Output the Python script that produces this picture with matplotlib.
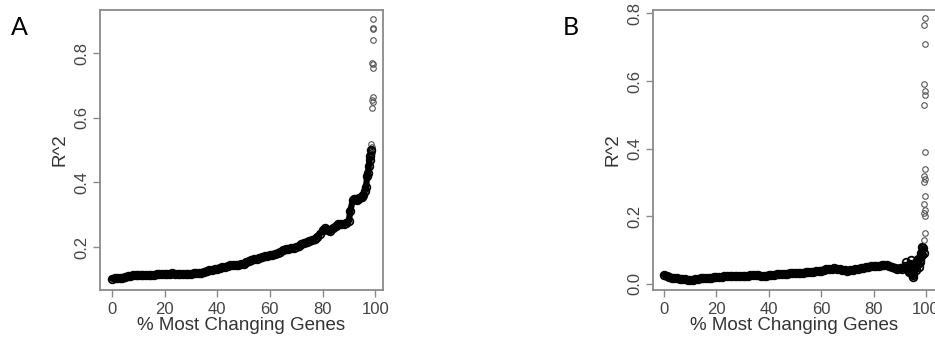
import numpy as np
import matplotlib
matplotlib.use('Agg')
from matplotlib import pyplot as plt

plt.rcParams['font.family'] = ['Liberation Sans', 'DejaVu Sans']

# - panel A data ---------------------------------------------------------------
a_x = list(range(0, 91)) + [90.5, 91.5, 92, 92.5, 93, 93.5, 94, 94.5, 95,
                            95.5, 96, 96.5, 97, 97.3, 97.6, 97.9, 98.2, 98.5]
a_y = [0.102, 0.103, 0.103, 0.104, 0.105, 0.107, 0.109, 0.111, 0.112, 0.112,
       0.112, 0.112, 0.112, 0.112, 0.113, 0.113, 0.114, 0.115, 0.116, 0.117,
       0.117, 0.118, 0.118, 0.119, 0.118, 0.118, 0.118, 0.118, 0.118, 0.118,
       0.118, 0.119, 0.119, 0.120, 0.121, 0.122, 0.127, 0.129, 0.130, 0.131,
       0.133, 0.136, 0.138, 0.139, 0.141, 0.143, 0.144, 0.145, 0.145, 0.146,
       0.148, 0.153, 0.157, 0.160, 0.162, 0.164, 0.167, 0.169, 0.171, 0.172,
       0.174, 0.176, 0.178, 0.181, 0.185, 0.190, 0.193, 0.195, 0.197, 0.198,
       0.200, 0.204, 0.208, 0.212, 0.216, 0.220, 0.222, 0.225, 0.232, 0.240,
       0.252, 0.258, 0.254, 0.248, 0.258, 0.266, 0.270, 0.271, 0.272, 0.275,
       0.280,
       0.310, 0.345, 0.348, 0.350, 0.345, 0.350, 0.352, 0.355, 0.355,
       0.360, 0.372, 0.385, 0.420, 0.430, 0.450, 0.470, 0.480, 0.500]
a_out_x = [98.6, 98.7, 98.8, 98.9, 99.0, 99.0, 98.9, 99.0, 98.9, 99.0, 99.2, 99.1, 99.2, 99.3]
a_out_y = [0.52, 0.51, 0.49, 0.63, 0.65, 0.665, 0.655, 0.755, 0.77, 0.765, 0.84, 0.875, 0.878, 0.905]

# - panel B data ---------------------------------------------------------------
b_x = list(range(0, 95)) + [94.5, 95, 95.5, 96, 96.5, 97, 97.5, 98, 98.5, 99]
b_y = [0.027, 0.024, 0.020, 0.019, 0.018, 0.017, 0.016, 0.015, 0.014, 0.013,
       0.012, 0.013, 0.014, 0.016, 0.018, 0.019, 0.019, 0.018, 0.019, 0.020,
       0.020, 0.021, 0.021, 0.022, 0.023, 0.024, 0.024, 0.023, 0.022, 0.022,
       0.022, 0.023, 0.024, 0.025, 0.026, 0.026, 0.025, 0.023, 0.022, 0.024,
       0.026, 0.027, 0.027, 0.028, 0.029, 0.029, 0.029, 0.030, 0.031, 0.031,
       0.032, 0.032, 0.033, 0.033, 0.034, 0.034, 0.035, 0.036, 0.037, 0.038,
       0.039, 0.041, 0.043, 0.044, 0.045, 0.046, 0.045, 0.044, 0.042, 0.040,
       0.039, 0.040, 0.042, 0.044, 0.045, 0.046, 0.047, 0.049, 0.051, 0.052,
       0.053, 0.052, 0.054, 0.055, 0.057, 0.056, 0.052, 0.049, 0.046, 0.045,
       0.046, 0.044, 0.052, 0.040, 0.060,
       0.030, 0.025, 0.045, 0.065, 0.055, 0.075, 0.065, 0.090, 0.085, 0.105]
b_tail_x = [92.5, 93.5, 94.2, 95.2, 96.2, 97.2, 97.8, 98.6, 99.1]
b_tail_y = [0.065, 0.035, 0.072, 0.020, 0.040, 0.050, 0.070, 0.110, 0.090]
b_out_x = [99.4, 99.5, 99.5, 99.4, 99.5, 99.4, 99.5, 99.4, 99.5, 99.4,
           99.5, 99.5, 99.4, 99.5, 99.5, 99.4, 99.5, 99.4, 99.5]
b_out_y = [0.13, 0.15, 0.20, 0.21, 0.22, 0.235, 0.26, 0.30, 0.31, 0.32,
           0.34, 0.39, 0.53, 0.56, 0.57, 0.59, 0.71, 0.765, 0.785]

fig = plt.figure(figsize=(9.35, 3.39), dpi=100)

box_col = '#8a8a8a'
txt_col = '#444444'


def r_style(ax, xlim, ylim, yticks):
    ax.set_xlim(*xlim)
    ax.set_ylim(*ylim)
    ax.set_xticks([0, 20, 40, 60, 80, 100])
    ax.set_yticks(yticks)
    ax.set_yticklabels(['%.1f' % t for t in yticks], rotation=90, va='center')
    for s in ax.spines.values():
        s.set_color(box_col)
        s.set_linewidth(1.3)
    ax.tick_params(colors=box_col, labelcolor=txt_col, labelsize=12,
                   length=5, width=1, direction='out')
    ax.tick_params(axis='y', pad=3)
    ax.set_xlabel('% Most Changing Genes', fontsize=13.5, color='#333333', labelpad=0)
    ax.set_ylabel('R^2', fontsize=13.5, color='#333333', labelpad=4)


def draw(ax, x, y):
    ax.plot(x, y, '-', color='black', lw=4.5, solid_capstyle='round', zorder=2)
    ax.plot(x, y, 'o', mfc='none', mec='black', ms=5.5, mew=1.3, zorder=3)


axA = fig.add_axes([0.107, 0.1445, 0.3027, 0.826])
draw(axA, a_x, a_y)
axA.plot(a_out_x, a_out_y, 'o', mfc='none', mec='#555555', ms=4, mew=0.8)
r_style(axA, (-4.5, 103.0), (0.067, 0.933), [0.2, 0.4, 0.6, 0.8])

axB = fig.add_axes([0.6984, 0.1445, 0.3027, 0.826])
draw(axB, b_x, b_y)
axB.plot(b_tail_x, b_tail_y, 'o', mfc='none', mec='black', ms=5.5, mew=1.3)
axB.plot(b_out_x, b_out_y, 'o', mfc='none', mec='#555555', ms=4, mew=0.8)
r_style(axB, (-4.2, 103.8), (-0.018, 0.81), [0.0, 0.2, 0.4, 0.6, 0.8])

fig.text(0.012, 0.897, 'A', fontsize=18, family=['Lato', 'DejaVu Sans'])
fig.text(0.602, 0.897, 'B', fontsize=18, family=['Lato', 'DejaVu Sans'])

fig.savefig('out.png', dpi=100)
